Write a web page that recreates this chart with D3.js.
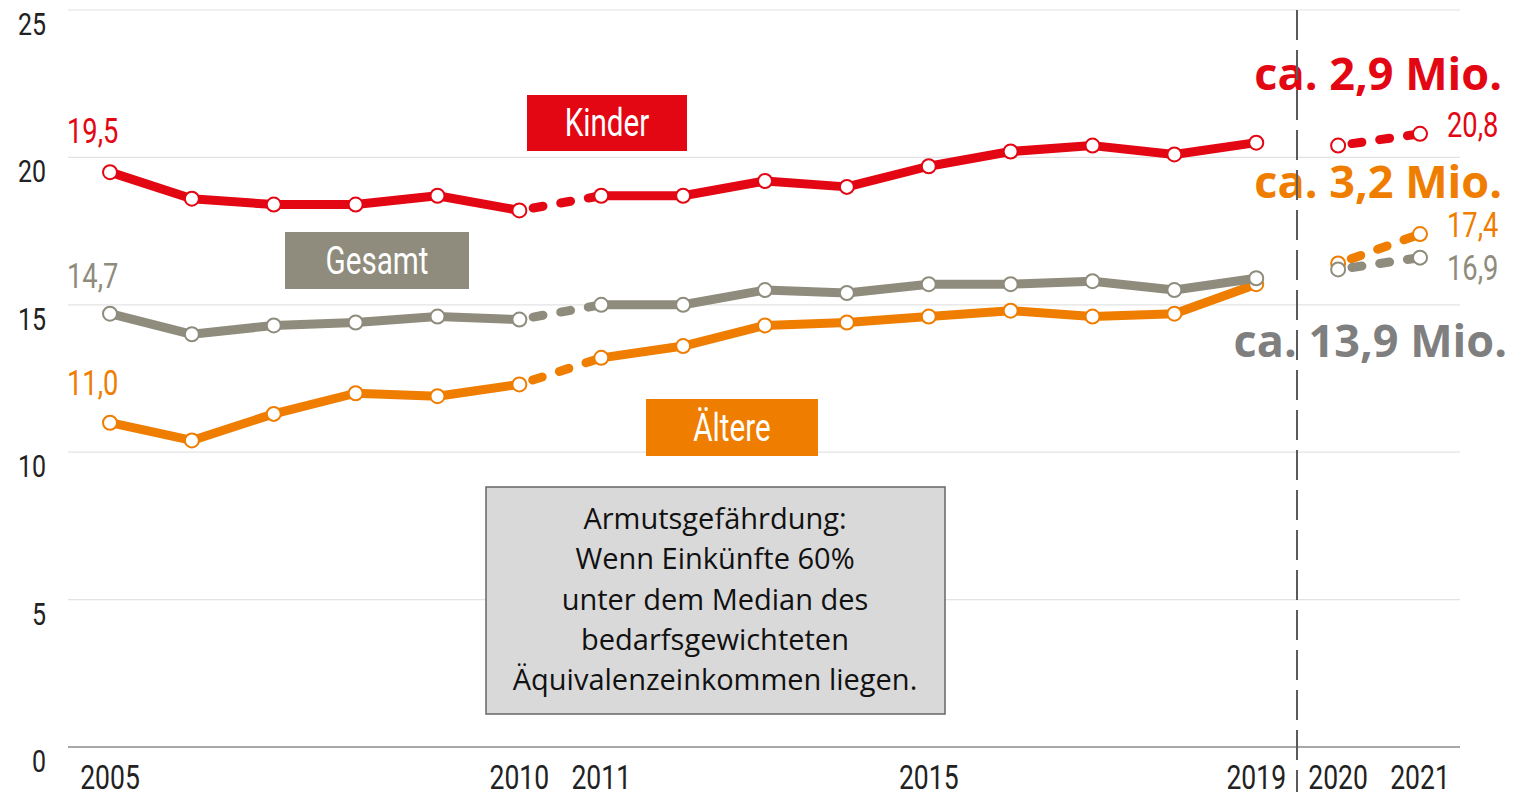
<!DOCTYPE html>
<html><head><meta charset="utf-8">
<script src="https://cdn.jsdelivr.net/npm/d3@7"></script>
<style>
body{margin:0;background:#fff;}
.cond{font-family:"Roboto","Liberation Sans",sans-serif;}
.cal{font-family:"Open Sans","Lato",sans-serif;}
</style></head>
<body><svg id="c" width="1528" height="797"></svg>
<script>
const years   = [2005,2006,2007,2008,2009,2010,2011,2012,2013,2014,2015,2016,2017,2018,2019,2020,2021];
const kinder  = [19.5,18.6,18.4,18.4,18.7,18.2,18.7,18.7,19.2,19.0,19.7,20.2,20.4,20.1,20.5,20.4,20.8];
const gesamt  = [14.7,14.0,14.3,14.4,14.6,14.5,15.0,15.0,15.5,15.4,15.7,15.7,15.8,15.5,15.9,16.2,16.6];
const aeltere = [11.0,10.4,11.3,12.0,11.9,12.3,13.2,13.6,14.3,14.4,14.6,14.8,14.6,14.7,15.7,16.4,17.4];
const yTicks  = [0,5,10,15,20,25];
const xTickYears = [2005,2010,2011,2015,2019,2020,2021];
// segments: [fromYear, toYear, dashed]
const segments = [[2005,2010,false],[2010,2011,true],[2011,2019,false],[2020,2021,true]];
const startLabels = {kinder:"19,5", gesamt:"14,7", aeltere:"11,0"};
const endLabels   = {kinder:"20,8", gesamt:"16,9", aeltere:"17,4"};
const mioLabels   = {kinder:"ca. 2,9 Mio.", aeltere:"ca. 3,2 Mio.", gesamt:"ca. 13,9 Mio."};
const seriesNames = {kinder:"Kinder", gesamt:"Gesamt", aeltere:"Ältere"};
const noteLines = ["Armutsgefährdung:","Wenn Einkünfte 60%","unter dem Median des","bedarfsgewichteten","Äquivalenzeinkommen liegen."];

const colors = {kinder:"#e30613", gesamt:"#8f8c7d", aeltere:"#ef7d00"};
const svg = d3.select("#c");
const x = d3.scaleLinear().domain([2005,2021]).range([110,1420]);
const y = d3.scaleLinear().domain([0,25]).range([747,10]);
const SX = 0.78; // horizontal condensing of the narrow face

function condText(parent, tx, ty, str, size, fill, anchor){
  const g = parent.append("g").attr("transform",`translate(${tx},${ty}) scale(${SX},1)`);
  g.append("text").attr("class","cond").attr("x",0).attr("y",0)
    .attr("text-anchor",anchor||"start").attr("font-size",size).attr("fill",fill).text(str);
  return g;
}

// grid
svg.append("g").selectAll("line").data(yTicks.filter(d=>d>0)).join("line")
  .attr("x1",68).attr("x2",1460).attr("y1",d=>y(d)).attr("y2",d=>y(d))
  .attr("stroke","#e3e3e3").attr("stroke-width",1.2);
svg.append("line").attr("x1",68).attr("x2",1460).attr("y1",y(0)).attr("y2",y(0))
  .attr("stroke","#a8a8a8").attr("stroke-width",2);

// y tick labels
const gy = svg.append("g");
yTicks.forEach(d=>condText(gy, 46, y(d)+25, String(d), 32, "#222", "end"));

// x tick labels
const gx = svg.append("g");
xTickYears.forEach(d=>condText(gx, x(d), 789, String(d), 34, "#222", "middle"));

// vertical dashed line
svg.append("line").attr("x1",1297).attr("x2",1297).attr("y1",10).attr("y2",792)
  .attr("stroke","#5a5a5a").attr("stroke-width",2).attr("stroke-dasharray","30,10");

// note box
svg.append("rect").attr("x",486).attr("y",487).attr("width",459).attr("height",227)
  .attr("fill","#d9d9d9").attr("stroke","#666").attr("stroke-width",1.5);
svg.append("g").selectAll("text").data(noteLines).join("text").attr("class","cal")
  .attr("x",715).attr("y",(d,i)=>529+i*40.3).attr("text-anchor","middle")
  .attr("font-size",29).attr("fill","#111").text(d=>d);

// series
const data = {kinder, gesamt, aeltere};
const line = d3.line().x(d=>x(d[0])).y(d=>y(d[1]));
["aeltere","gesamt","kinder"].forEach(k=>{
  const g = svg.append("g");
  const vals = data[k];
  segments.forEach(([a,b,dashed])=>{
    const pts = years.map((yr,i)=>[yr,vals[i]]).filter(p=>p[0]>=a && p[0]<=b);
    g.append("path").attr("d",line(pts)).attr("fill","none")
      .attr("stroke",colors[k]).attr("stroke-width",9)
      .attr("stroke-linejoin","round")
      .attr("stroke-linecap",dashed?"round":"butt")
      .attr("stroke-dasharray",dashed?"10,18":null)
      .attr("stroke-dashoffset",dashed?-14:null);
  });
  g.selectAll("circle").data(years.map((yr,i)=>[yr,vals[i]])).join("circle")
    .attr("cx",d=>x(d[0])).attr("cy",d=>y(d[1])).attr("r",7)
    .attr("fill","#fff").attr("stroke",colors[k]).attr("stroke-width",2);
});

// start / end value labels
const startY = {kinder:143, gesamt:288, aeltere:395};
const endY = {kinder:137, gesamt:280, aeltere:237};
const gl = svg.append("g");
Object.keys(startLabels).forEach(k=>{
  condText(gl, 67, startY[k], startLabels[k], 35, colors[k]);
  condText(gl, 1447, endY[k], endLabels[k], 35, colors[k]);
});

// Mio labels
const mioPos = {kinder:[1502,90,colors.kinder], aeltere:[1502,198,colors.aeltere], gesamt:[1507,357,"#7f7f7f"]};
Object.keys(mioLabels).forEach(k=>{
  const [mx,my,c]=mioPos[k];
  svg.append("text").attr("class","cal").attr("x",mx).attr("y",my).attr("text-anchor","end")
    .attr("font-size",45).attr("font-weight","bold").attr("fill",c).text(mioLabels[k]);
});
// redraw dashed divider over the texts
svg.append("line").attr("x1",1297).attr("x2",1297).attr("y1",10).attr("y2",792)
  .attr("stroke","#5a5a5a").attr("stroke-width",2).attr("stroke-dasharray","30,10");

// series name boxes
const boxes = {kinder:[527,95,160,56], gesamt:[285,232,184,57], aeltere:[646,399,172,57]};
Object.keys(boxes).forEach(k=>{
  const [bx,by,bw,bh]=boxes[k];
  svg.append("rect").attr("x",bx).attr("y",by).attr("width",bw).attr("height",bh).attr("fill",colors[k]);
  condText(svg, bx+bw/2, by+bh/2+13, seriesNames[k], 38, "#fff", "middle");
});
</script></body></html>
